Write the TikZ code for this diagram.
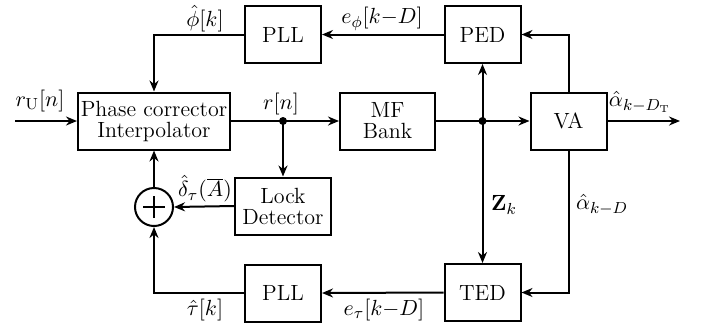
\documentclass[tikz,border=0pt]{standalone}
\usetikzlibrary{calc,arrows.meta}
\tikzset{
  blk/.style={draw,line width=1pt,minimum width=#1,minimum height=28.5pt,inner sep=1pt,align=center},
  blk/.default=38pt,
  lbl/.style={inner sep=0pt}
}
\begin{document}
\begin{tikzpicture}[x=0.5pt,y=0.5pt,line width=1pt,>={Stealth[length=5.5pt,width=4.5pt]},font=\fontsize{11}{12.5}\selectfont]
  \useasboundingbox (0,0) rectangle (704,329);
  % blocks
  \node[blk=76pt] (phase) at (154,208) {Phase corrector\\[-2pt]Interpolator};
  \node[blk] (pllT) at (283,294.5) {PLL};
  \node[blk=47.5pt] (mf) at (387.5,208) {MF\\[-2pt]Bank};
  \node[blk] (ped) at (482.5,294.5) {PED};
  \node[blk] (va) at (568.5,208) {VA};
  \node[blk=48pt] (lock) at (283,123) {Lock\\[-2pt]Detector};
  \node[blk] (pllB) at (283,36) {PLL};
  \node[blk] (ted) at (482.5,36.5) {TED};
  \node[draw,circle,minimum size=19pt,inner sep=0pt] (sum) at (154,122) {};
  \draw ($(sum)+(-11,0)$)--($(sum)+(11,0)$) ($(sum)+(0,-11)$)--($(sum)+(0,11)$);
  % branch points
  \coordinate (in) at (15,208);
  \coordinate (out) at (680,208);
  \coordinate (d1) at (283,208);
  \coordinate (d2) at (482.5,208);
  \fill (d1) circle(2pt) (d2) circle(2pt);
  % connectors
  \draw[->] (in)--(phase.west);
  \draw[->] (phase.east)--(d1)--(mf.west);
  \draw[->] (d1)--(lock.north);
  \draw[->] (mf.east)--(d2)--(va.west);
  \draw[->] (va.east)--(out);
  \draw[->] (va.north)|-(ped.east);
  \draw[->] (va.south)|-(ted.east);
  \draw[->] (d2)--(ped.south);
  \draw[->] (d2)--(ted.north);
  \draw[->] (ped.west)--(pllT.east);
  \draw[->] (pllT.west)-|(phase.north);
  \draw[->] (ted.west)--(pllB.east);
  \draw[->] (pllB.west)-|(sum.south);
  \draw[->] (lock.west)--(sum.east);
  \draw[->] (sum.north)--(phase.south);
  % labels
  \node[lbl] (l1) at (40,228) {$r_{\mathrm{U}}[n]$};
  \node[lbl] (l2) at (205,310) {$\hat{\phi}[k]$};
  \node[lbl] (l3) at (382,310) {$e_{\phi}[k{-}D]$};
  \node[lbl] (l4) at (281,225) {$r[n]$};
  \node[lbl] (l5) at (640,227) {$\hat{\alpha}_{k-D_{\mathrm{T}}}$};
  \node[lbl] (l6) at (504,124) {$\mathbf{Z}_k$};
  \node[lbl] (l7) at (602,124) {$\hat{\alpha}_{k-D}$};
  \node[lbl] (l8) at (205,140) {$\hat{\delta}_{\tau}(\overline{A})$};
  \node[lbl] (l9) at (205,19) {$\hat{\tau}[k]$};
  \node[lbl] (l10) at (384,19) {$e_{\tau}[k{-}D]$};
\end{tikzpicture}
\end{document}
